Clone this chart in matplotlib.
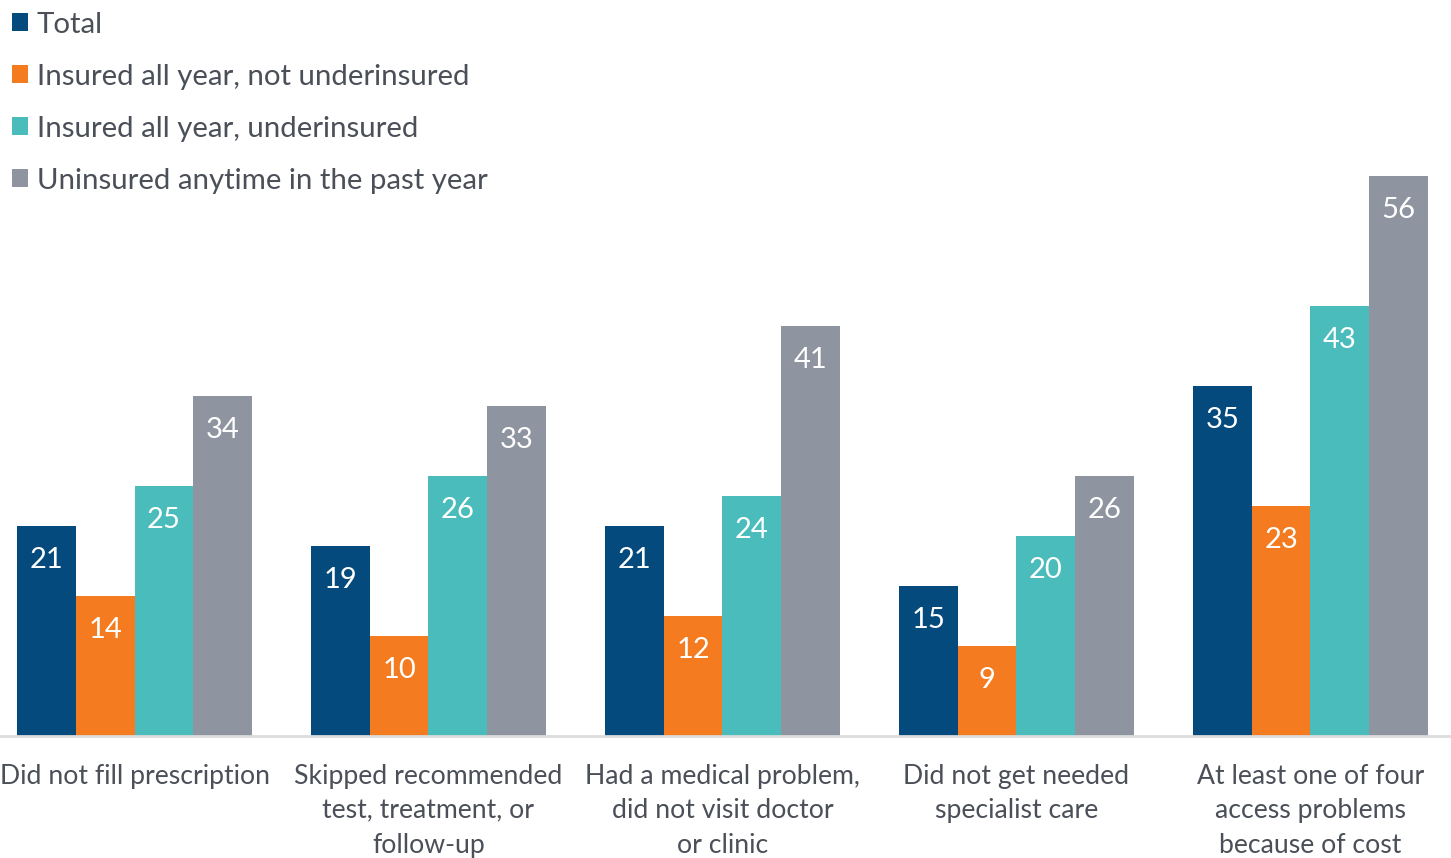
import matplotlib.pyplot as plt
import numpy as np

categories = ["Did not fill prescription",
              "Skipped recommended\ntest, treatment, or\nfollow-up",
              "Had a medical problem,\ndid not visit doctor\nor clinic",
              "Did not get needed\nspecialist care",
              "At least one of four\naccess problems\nbecause of cost"]
series = ["Total", "Insured all year, not underinsured",
          "Insured all year, underinsured", "Uninsured anytime in the past year"]
total = [21, 19, 21, 15, 35]
insured_not_under = [14, 10, 12, 9, 23]
insured_under = [25, 26, 24, 20, 43]
uninsured = [34, 33, 41, 26, 56]

colors = ["#054a7d", "#f47b20", "#4bbcbc", "#8f95a0"]
text_color = "#4a4f58"
plt.rcParams['font.family'] = ['Lato', 'DejaVu Sans']

fig = plt.figure(figsize=(14.51, 8.58), dpi=100)
ax = fig.add_axes([0, 122 / 858, 1, 700 / 858])

x = np.arange(len(categories))
w = 0.2
handles = []
for i, (vals, name) in enumerate(zip([total, insured_not_under, insured_under, uninsured], series)):
    pos = x + (i - 1.5) * w
    b = ax.bar(pos, vals, width=w, color=colors[i], label=name, edgecolor="none")
    handles.append(b)
    for p, v in zip(pos, vals):
        ax.text(p, v - 3.4, str(v), ha="center", va="center", color="white", fontsize=21)

ax.set_xlim(-0.4575, 4.478)
ax.set_ylim(0, 70)
ax.set_yticks([])
ax.set_xticks(x)
ax.set_xticklabels(categories, fontsize=19.2, color=text_color, linespacing=1.47)
ax.tick_params(axis="x", length=0, pad=20)
for s in ["top", "right", "left"]:
    ax.spines[s].set_visible(False)
ax.spines["bottom"].set_color("#dcdcdc")
ax.spines["bottom"].set_linewidth(2)

leg = fig.legend(handles=handles, labels=series, loc="upper left", bbox_to_anchor=(0.0, 1.0),
                 frameon=False, fontsize=21.2, handlelength=0.55, handleheight=0.55,
                 handletextpad=0.3, labelspacing=0.88, borderaxespad=0.2, borderpad=0.2)
for t in leg.get_texts():
    t.set_color(text_color)

fig.savefig("out.png", dpi=100)
